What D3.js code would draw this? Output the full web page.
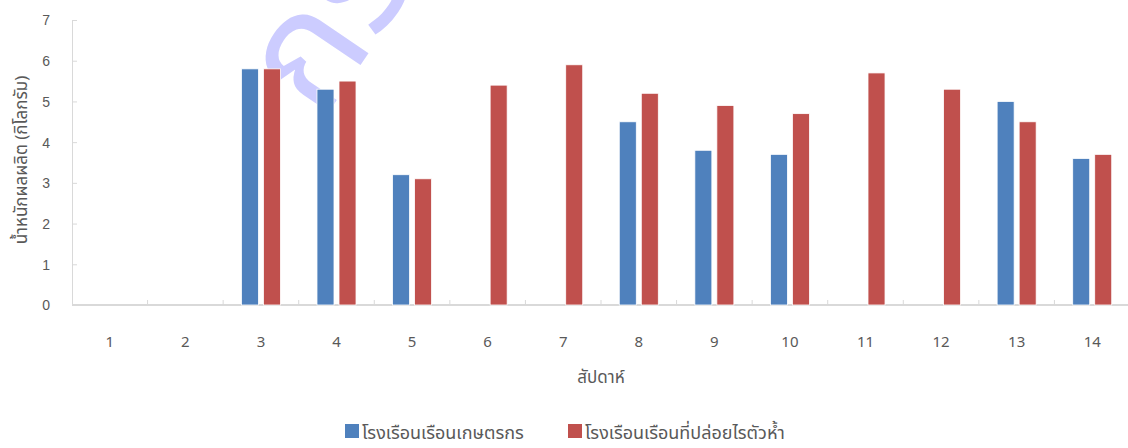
<!DOCTYPE html>
<html lang="th">
<head>
<meta charset="UTF-8">
<title>น้ำหนักผลผลิต</title>
<style>
  body { margin: 0; background: #fff; }
  svg { display: block; font-family: Tahoma, "Noto Sans Thai", "DejaVu Sans", sans-serif; }
  .tick text { fill: #595959; font-size: 14px; }
</style>
</head>
<body>
<svg width="1128" height="448"></svg>
<script src="https://d3js.org/d3.v7.min.js"></script>
<script>
// ข้อมูล
const weeks = ["1","2","3","4","5","6","7","8","9","10","11","12","13","14"];
const farmer = [null, null, 5.8, 5.3, 3.2, null, null, 4.5, 3.8, 3.7, null, null, 5.0, 3.6];
const released = [null, null, 5.8, 5.5, 3.1, 5.4, 5.9, 5.2, 4.9, 4.7, 5.7, 5.3, 4.5, 3.7];
const seriesNames = ["โรงเรือนเรือนเกษตรกร", "โรงเรือนเรือนที่ปล่อยไรตัวห้ำ"];
const colors = ["#4f81bd", "#c0504d"];
const yTicks = [0, 1, 2, 3, 4, 5, 6, 7];

const svg = d3.select("svg");
const x0 = 72, x1 = 1130, yTop = 20, yBot = 305;

const x = d3.scaleBand().domain(weeks).range([x0, x1]);
const y = d3.scaleLinear().domain([0, 7]).range([yBot, yTop]);
const inner = d3.scaleBand().domain([0, 1]).range([0, x.bandwidth()]).paddingInner(0.227).paddingOuter(0.83);

// ลายน้ำ
svg.append("text")
  .attr("transform", "translate(322,122) rotate(-56)")
  .attr("font-size", 160)
  .attr("fill", "#ccccff")
  .text("กร");

// y axis
const yAxis = svg.append("g")
  .attr("transform", `translate(${x0},0)`)
  .call(d3.axisRight(y).tickValues(yTicks).tickSize(5).tickFormat(d3.format("d")));
yAxis.selectAll("line").attr("stroke", "#d9d9d9");
yAxis.select(".domain").attr("stroke", "#d9d9d9").attr("d", `M0.5,${yTop}V${yBot}`);
yAxis.selectAll("text").attr("x", -22).attr("text-anchor", "end").attr("dy", "0.35em");

// x axis
const xAxis = svg.append("g").attr("transform", `translate(0,${yBot})`);
xAxis.append("line").attr("x1", x0).attr("x2", x1).attr("stroke", "#d9d9d9").attr("stroke-width", 2);
xAxis.selectAll(".xt").data(weeks.slice(1)).enter().append("line")
  .attr("x1", d => x(d)).attr("x2", d => x(d))
  .attr("y1", -5).attr("y2", 0).attr("stroke", "#d9d9d9");
xAxis.selectAll(".xl").data(weeks).enter().append("text")
  .attr("x", d => x(d) + x.bandwidth() / 2)
  .attr("y", 42)
  .attr("text-anchor", "middle")
  .attr("fill", "#595959")
  .attr("font-size", 15)
  .text(d => d);

// bars
[farmer, released].forEach((vals, s) => {
  svg.append("g").selectAll("rect")
    .data(weeks.map((w, i) => ({ w, v: vals[i] })).filter(d => d.v != null))
    .enter().append("rect")
    .attr("x", d => x(d.w) + inner(s))
    .attr("width", inner.bandwidth())
    .attr("y", d => y(d.v))
    .attr("height", d => yBot - y(d.v))
    .attr("fill", colors[s])
    .attr("stroke", "#fff")
    .attr("stroke-width", 0.8);
});

// axis titles
svg.append("text")
  .attr("transform", "translate(27,160) rotate(-90)")
  .attr("text-anchor", "middle")
  .attr("fill", "#595959")
  .attr("font-size", 17)
  .text("น้ำหนักผลผลิต (กิโลกรัม)");

svg.append("text")
  .attr("x", 601).attr("y", 383)
  .attr("text-anchor", "middle")
  .attr("fill", "#595959")
  .attr("font-size", 17)
  .text("สัปดาห์");

// legend
const legendX = [345, 568];
const lg = svg.append("g");
seriesNames.forEach((n, i) => {
  lg.append("rect").attr("x", legendX[i]).attr("y", 424).attr("width", 14).attr("height", 14).attr("fill", colors[i]);
  lg.append("text").attr("x", legendX[i] + 17).attr("y", 439)
    .attr("fill", "#595959").attr("font-size", 18).text(n);
});
</script>
</body>
</html>
